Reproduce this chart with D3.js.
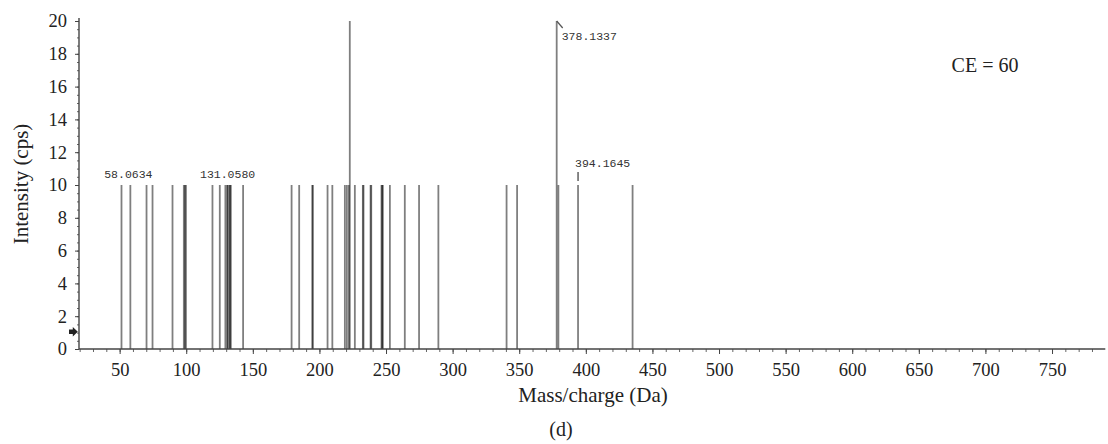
<!DOCTYPE html>
<html>
<head>
<meta charset="utf-8">
<script src="https://cdn.jsdelivr.net/npm/d3@7/dist/d3.min.js"></script>
<style>
  body { margin: 0; background: #fff; }
  text { font-family: "Liberation Serif", "Times New Roman", serif; }
  .peaklabel { font-family: "Liberation Mono", "DejaVu Sans Mono", monospace; }
</style>
</head>
<body>
<script>
// peaks (m/z, intensity in cps)
var peakMz = [51.4, 58.06, 70.2, 74.7, 89.7, 98.2, 99.0, 99.8, 119.7, 125.2,
              129.4, 130.8, 131.06, 132.3, 132.9, 133.5, 142.7,
              179.1, 184.8, 194.6, 195.1, 206.1, 209.7, 219.1, 220.6, 222.1, 222.8,
              226.6, 232.6, 233.1, 238.4, 238.9, 246.6, 247.1, 247.6, 252.9,
              264.1, 274.8, 289.3, 340.5, 348.4, 378.13, 379.4, 394.16, 435.1];
var peakInt = [10, 10, 10, 10, 10, 10, 10, 10, 10, 10,
               10, 10, 10, 10, 10, 10, 10,
               10, 10, 10, 10, 10, 10, 10, 10, 10, 20,
               10, 10, 10, 10, 10, 10, 10, 10, 10,
               10, 10, 10, 10, 10, 20, 10, 10, 10];

// labelled peaks
var labelMz = [58.0634, 131.0580, 378.1337, 394.1645];
var labelText = ["58.0634", "131.0580", "378.1337", "394.1645"];

var yTicks = [0, 2, 4, 6, 8, 10, 12, 14, 16, 18, 20];
var xTicks = [50, 100, 150, 200, 250, 300, 350, 400, 450, 500, 550, 600, 650, 700, 750];

var w = 1108, h = 444;

var svg = d3.select("body").append("svg")
    .attr("width", w)
    .attr("height", h);

var x = d3.scaleLinear().domain([19.5, 790]).range([79, 1105.3]);
var y = d3.scaleLinear().domain([0, 20]).range([349, 21]);

// peaks
svg.append("g")
  .selectAll("line")
  .data(peakMz)
  .enter()
  .append("line")
    .attr("x1", function(d) { return x(d); })
    .attr("x2", function(d) { return x(d); })
    .attr("y1", y(0))
    .attr("y2", function(d, i) { return y(peakInt[i]); })
    .attr("stroke", "#000")
    .attr("stroke-opacity", 0.5)
    .attr("stroke-width", 1.8);

// minor ticks
svg.append("g")
    .attr("transform", "translate(79,0)")
    .call(d3.axisLeft(y).tickValues(d3.range(0, 20.01, 0.5)).tickSize(2).tickFormat(""))
    .call(function(g) { g.select(".domain").remove(); })
    .selectAll("line").attr("stroke", "#666");

svg.append("g")
    .attr("transform", "translate(0,349)")
    .call(d3.axisBottom(x).tickValues(d3.range(20, 790, 10)).tickSize(3).tickFormat(""))
    .call(function(g) { g.select(".domain").remove(); })
    .selectAll("line").attr("stroke", "#666");

// major ticks with labels
var yAxis = svg.append("g")
    .attr("transform", "translate(79,0)")
    .call(d3.axisLeft(y).tickValues(yTicks).tickSize(4).tickPadding(8));

var xAxis = svg.append("g")
    .attr("transform", "translate(0,349)")
    .call(d3.axisBottom(x).tickValues(xTicks).tickSize(5).tickPadding(9));

[yAxis, xAxis].forEach(function(g) {
    g.select(".domain").attr("stroke", "#444").attr("stroke-width", 1.4);
    g.selectAll(".tick line").attr("stroke", "#444");
    g.selectAll(".tick text")
      .attr("fill", "#222")
      .style("font-family", "'Liberation Serif', serif")
      .style("font-size", "18.5px");
});
yAxis.select(".domain").attr("d", "M0,18V349");
xAxis.select(".domain").attr("d", "M79,0H1105.3");

// small arrow on the y axis
var ay = y(1.05);
svg.append("path")
    .attr("d", "M69," + (ay - 2.2) + "H72.8V" + (ay - 4.8) + "L77.8," + ay +
               "L72.8," + (ay + 4.8) + "V" + (ay + 2.2) + "H69Z")
    .attr("fill", "#222");

// peak labels
function peakLabel(i, tx, ty, anchor) {
    svg.append("text")
        .attr("class", "peaklabel")
        .attr("x", tx)
        .attr("y", ty)
        .attr("text-anchor", anchor)
        .attr("fill", "#333")
        .style("font-size", "11.5px")
        .text(labelText[i]);
}
peakLabel(0, x(labelMz[0]) - 2, y(10) - 7, "middle");
peakLabel(1, x(labelMz[1]), y(10) - 7, "middle");

// 378 label with leader line
svg.append("path")
    .attr("d", "M" + x(labelMz[2]) + "," + y(20) + "l6,7")
    .attr("fill", "none")
    .attr("stroke", "#555")
    .attr("stroke-width", 1.2);
peakLabel(2, x(labelMz[2]) + 5, y(20) + 19, "start");

// 394 label with marker
svg.append("line")
    .attr("x1", x(labelMz[3]))
    .attr("x2", x(labelMz[3]))
    .attr("y1", y(10) - 13)
    .attr("y2", y(10) - 4)
    .attr("stroke", "#555")
    .attr("stroke-width", 1.4);
peakLabel(3, x(labelMz[3]) - 3, y(10) - 18, "start");

// titles
svg.append("text")
    .attr("x", 593)
    .attr("y", 402)
    .attr("text-anchor", "middle")
    .attr("fill", "#222")
    .style("font-size", "21px")
    .text("Mass/charge (Da)");

svg.append("text")
    .attr("transform", "rotate(-90)")
    .attr("x", -184)
    .attr("y", 28)
    .attr("text-anchor", "middle")
    .attr("fill", "#222")
    .style("font-size", "21px")
    .text("Intensity (cps)");

svg.append("text")
    .attr("x", 985)
    .attr("y", 71.5)
    .attr("text-anchor", "middle")
    .attr("fill", "#222")
    .style("font-size", "20px")
    .text("CE = 60");

svg.append("text")
    .attr("x", 561)
    .attr("y", 436)
    .attr("text-anchor", "middle")
    .attr("fill", "#222")
    .style("font-size", "20px")
    .text("(d)");
</script>
</body>
</html>
